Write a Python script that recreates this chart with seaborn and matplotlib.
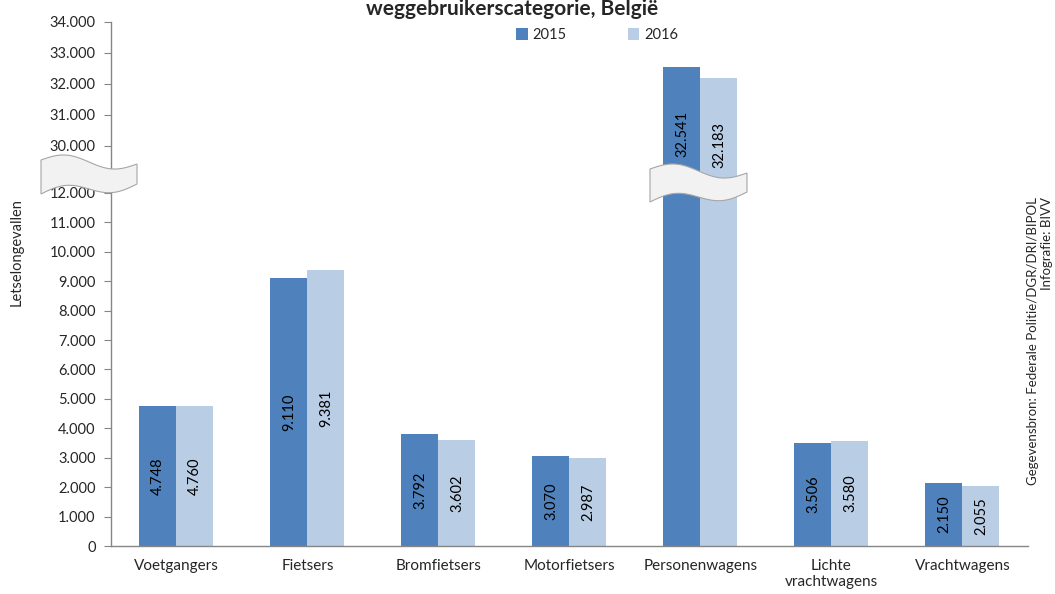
import numpy as np
import pandas as pd
import seaborn as sns
import matplotlib.pyplot as plt
from matplotlib.patches import Polygon

# data
categories = ['Voetgangers', 'Fietsers', 'Bromfietsers', 'Motorfietsers',
              'Personenwagens', 'Lichte\nvrachtwagens', 'Vrachtwagens']
years = ['2015', '2016']
v2015 = [4748, 9110, 3792, 3070, 32541, 3506, 2150]
v2016 = [4760, 9381, 3602, 2987, 32183, 3580, 2055]
yticks_low = [0, 1000, 2000, 3000, 4000, 5000, 6000, 7000, 8000, 9000, 10000, 11000, 12000]
yticks_high = [30000, 31000, 32000, 33000, 34000]

colors = ['#4F81BD', '#B9CDE5']

df = pd.DataFrame({
    'categorie': categories * 2,
    'jaar': [years[0]] * len(categories) + [years[1]] * len(categories),
    'waarde': v2015 + v2016,
})

sns.set_style('white')
plt.rcParams['font.family'] = ['Lato', 'DejaVu Sans']

# broken axis: 12.000 -> 30.000 squeezed into a small gap
LOW, HIGH, GAP, K = 12000, 30000, 1600, 1.053


def fwd(v):
    v = np.asarray(v, dtype=float)
    return np.where(v <= LOW, v,
                    np.where(v < HIGH, LOW + (v - LOW) * GAP / (HIGH - LOW),
                             LOW + GAP + (v - HIGH) * K))


def inv(u):
    u = np.asarray(u, dtype=float)
    return np.where(u <= LOW, u,
                    np.where(u < LOW + GAP, LOW + (u - LOW) * (HIGH - LOW) / GAP,
                             HIGH + (u - LOW - GAP) / K))


fig = plt.figure(figsize=(10.55, 5.94), dpi=100)
ax = fig.add_axes([0.1052, 0.0808, 0.8692, 0.8822])

sns.barplot(data=df, x='categorie', y='waarde', hue='jaar', palette=colors,
            width=0.565, gap=0, saturation=1, ax=ax, linewidth=0)

ax.set_yscale('function', functions=(fwd, inv))
ax.set_ylim(0, 34000)
ax.set_xlim(-0.5, len(categories) - 0.5)

ticks = yticks_low + yticks_high
ax.set_yticks(ticks)
ax.set_yticklabels([f'{t:,}'.replace(',', '.') for t in ticks], fontsize=10.5)
ax.yaxis.set_minor_locator(plt.NullLocator())

ax.set_xticks(np.arange(len(categories)))
ax.set_xticklabels(categories, fontsize=11)
ax.set_xticks(np.arange(-0.5, len(categories), 1), minor=True)
ax.tick_params(axis='x', which='major', length=0, pad=9)
ax.tick_params(axis='x', which='minor', length=5, color='#868686', direction='out')
ax.tick_params(axis='y', length=5, color='#868686', direction='out', pad=6, left=True)
ax.set_xlabel('')
ax.set_ylabel('')

for side in ['top', 'right']:
    ax.spines[side].set_visible(False)
for side in ['left', 'bottom']:
    ax.spines[side].set_color('#868686')
    ax.spines[side].set_linewidth(1)

# value labels inside the bars
for cont in ax.containers:
    for bar in cont:
        h = bar.get_height()
        x = bar.get_x() + bar.get_width() / 2
        txt = f'{int(h):,}'.replace(',', '.')
        if h <= LOW:
            ax.text(x, float(inv(fwd(h) / 2)), txt, rotation=90, ha='center',
                    va='center', fontsize=10.5, color='black')
        else:
            ax.annotate(txt, (x, h), xytext=(0, -67), textcoords='offset pixels',
                        rotation=90, ha='center', va='center', fontsize=10.5,
                        color='black')

ax.legend(ncol=2, loc='center', bbox_to_anchor=(0.566, 0.941),
          bbox_transform=fig.transFigure, frameon=False, fontsize=10.5,
          handlelength=0.8, handleheight=0.8, handletextpad=0.3, columnspacing=4.2)


def draw_break(x0, y0, w, h):
    # wavy break symbol, pixel coords from top-left
    t = np.linspace(0, 1, 40)
    xs = x0 + t * w
    top = y0 - 6 * np.sin(2 * np.pi * t) + 4 * t
    bot = top + h - 14 * t
    px = np.concatenate([xs, xs[::-1]])
    py = np.concatenate([top, bot[::-1]])
    pts = np.column_stack([px / 1055, 1 - py / 594])
    fig.patches.append(Polygon(pts, closed=True, transform=fig.transFigure,
                               facecolor='#F2F2F2', edgecolor='#A6A6A6',
                               linewidth=0.8, zorder=5))


draw_break(41, 160, 96, 34)
draw_break(650, 169, 97, 33)

fig.text(0.485, 1 - 15 / 594, 'weggebruikerscategorie, België', ha='center',
         va='baseline', fontsize=15, fontweight='bold')
fig.text(17 / 1055, 1 - 252 / 594, 'Letselongevallen', rotation=90,
         ha='center', va='center', fontsize=10.5)
fig.text(1040 / 1055, 1 - 197 / 594,
         'Gegevensbron: Federale Politie/DGR/DRI/BIPOL\nInfografie: BIVV',
         rotation=90, ha='center', va='top', multialignment='right', fontsize=9.5)

fig.savefig('out.png', dpi=100)
